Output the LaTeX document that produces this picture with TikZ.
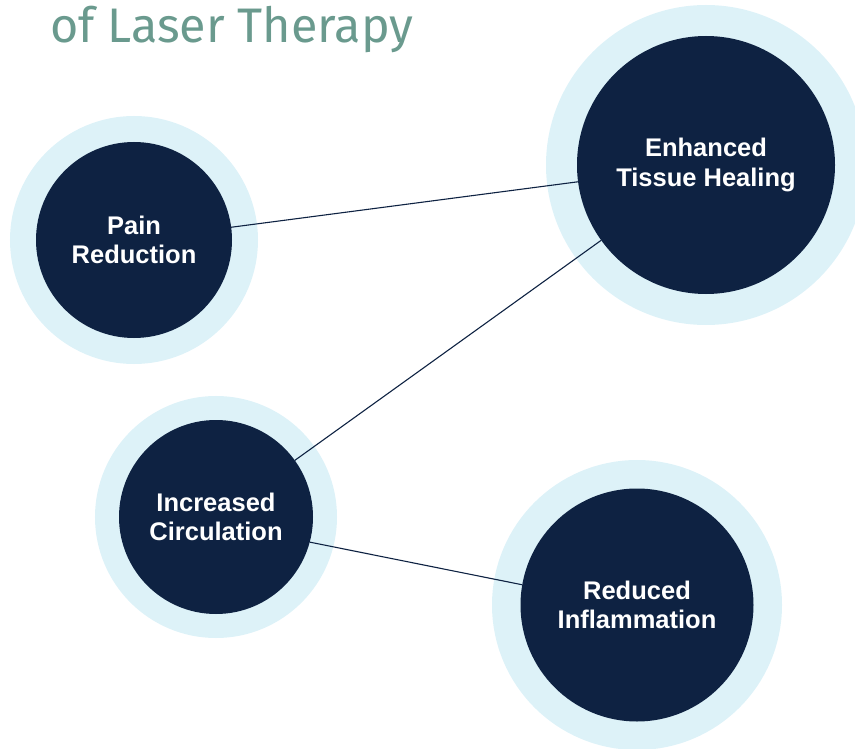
\documentclass[tikz,border=0pt]{standalone}
\usepackage{fontspec}
\newfontfamily\labelfont{Liberation Sans}
\newfontfamily\titlefont{Fira Sans}
\usetikzlibrary{positioning}

\definecolor{navy}{HTML}{0E2242}
\definecolor{halo}{HTML}{DDF2F8}
\definecolor{teal}{HTML}{6A9A8E}

\tikzset{
  benefit/.style={circle, fill=navy, text=white, outer sep=0pt,
    font=\labelfont\bfseries\fontsize{25.5}{29.5}\selectfont, align=center,
    preaction={draw=halo, line width=#1}},
  link/.style={draw=navy, line width=1.1pt}
}

\begin{document}
\begin{tikzpicture}[x=1pt, y=-1pt]
    \clip (0,0) rectangle (855,749);

    % Title
    \node[anchor=base west, inner sep=0pt, text=teal,
          font=\titlefont\fontsize{48.5}{58}\selectfont] (title) at (50,43) {of Laser Therapy};

    % Benefits
    \node[benefit=52pt, minimum size=196pt] (pain) at (134,240) {Pain\\Reduction};
    \node[benefit=62pt, minimum size=258pt] (tissue) at (706,165) {Enhanced\\Tissue Healing};
    \node[benefit=48pt, minimum size=194pt] (circ) at (216,517) {Increased\\Circulation};
    \node[benefit=57pt, minimum size=233pt] (inflam) at (637,605) {Reduced\\Inflammation};

    % Links
    \draw[link] (pain) -- (tissue);
    \draw[link] (tissue) -- (circ);
    \draw[link] (circ.-15) -- (inflam.170);
\end{tikzpicture}
\end{document}
